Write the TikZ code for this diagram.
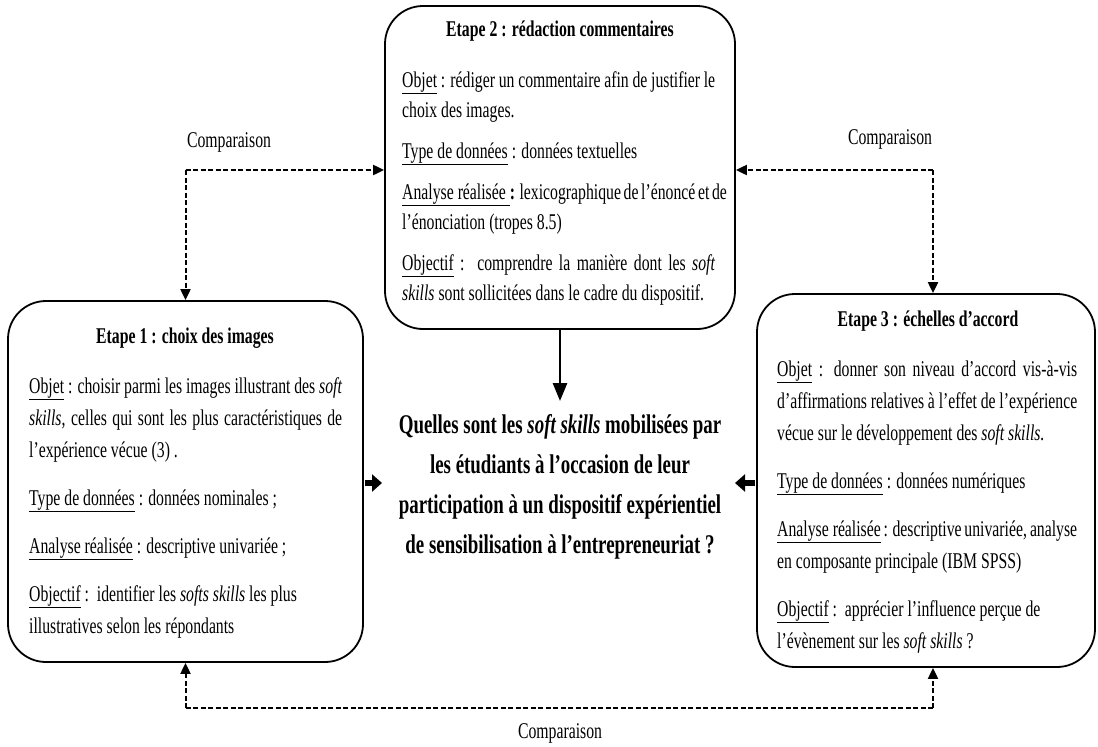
\documentclass[tikz,border=0pt]{standalone}
\usepackage{fontspec}
\setmainfont{Liberation Serif}[FakeStretch=0.7]
\usetikzlibrary{arrows.meta}
\newcommand\J[1]{\hbox to\hsize{#1}}
\newcommand\R[1]{\hbox{#1}}
\tikzset{
  stepbox/.style={draw, line width=1.8pt, rounded corners=38pt, inner sep=0pt},
  body/.style={inner sep=0pt, anchor=base west, font=\fontsize{22.5}{32}\selectfont},
  ttl/.style={inner sep=0pt, anchor=base, font=\fontsize{22.5}{32}\selectfont\bfseries},
  lbl/.style={inner sep=0pt, anchor=center, font=\fontsize{22.5}{32}\selectfont},
  cmp/.style={line width=2pt, dash pattern=on 5pt off 2.5pt},
  cmptip/.style={-{Triangle[length=11pt,width=10pt]}},
  bigarrow/.style={line width=5.5pt, -{Triangle[length=10pt,width=17pt]}},
  downarrow/.style={line width=2.8pt, -{Triangle[length=18pt,width=14pt]}},
}
\begin{document}
\begin{tikzpicture}[x=1pt,y=-1pt]
\useasboundingbox (0,0) rectangle (1098,747);
% boxes
\node[stepbox, minimum width=355pt, minimum height=361pt] (b1) at (185.5,481.5) {};
\node[stepbox, minimum width=350pt, minimum height=323pt] (b2) at (560,167.5) {};
\node[stepbox, minimum width=338pt, minimum height=373pt] (b3) at (926,480.5) {};
% titles
\node[ttl] (t1) at (185,343) {Etape 1 : choix des images};
\node[ttl] (t2) at (560,36) {Etape 2 : rédaction commentaires};
\node[ttl] (t3) at (928,326) {Etape 3 : échelles d’accord};
% bodies
\node[body] (p1) at (29,393) {\vtop{\hsize=313pt
\J{\underline{Objet} : choisir parmi les images illustrant des \textit{soft}}
\J{\textit{skills}, celles qui sont les plus caractéristiques de}
\R{l’expérience vécue (3) .}
\vskip16pt
\R{\underline{Type de données} : données nominales ;}
\vskip16pt
\R{\underline{Analyse réalisée} : descriptive univariée ;}
\vskip16pt
\R{\underline{Objectif} :\ \ identifier les \textit{softs skills} les plus}
\R{illustratives selon les répondants}}};
\node[body] (p2) at (402,87) {\vtop{\hsize=313pt \baselineskip=30pt
\J{\underline{Objet} : rédiger un commentaire afin de justifier le}
\R{choix des images.}
\vskip11pt
\R{\underline{Type de données} : données textuelles}
\vskip11pt
\J{\underline{Analyse réalisée }\textbf{:} lexicographique de l’énoncé et de}
\R{l’énonciation (tropes 8.5)}
\vskip11pt
\J{\underline{Objectif} :\ \ comprendre la manière dont les \textit{soft}}
\R{\textit{skills} sont sollicitées dans le cadre du dispositif.}}};
\node[body] (p3) at (777,376) {\vtop{\hsize=300pt
\J{\underline{Objet} : donner son niveau d’accord vis-à-vis}
\J{d’affirmations relatives à l’effet de l’expérience}
\R{vécue sur le développement des \textit{soft skills.}}
\vskip16pt
\R{\underline{Type de données} : données numériques}
\vskip16pt
\J{\underline{Analyse réalisée} : descriptive univariée, analyse}
\R{en composante principale (IBM SPSS)}
\vskip16pt
\R{\underline{Objectif} :\ \ apprécier l’influence perçue de}
\R{l’évènement sur les \textit{soft skills} ?}}};
% central question
\node[inner sep=0pt, align=center, font=\fontsize{27}{40}\selectfont\bfseries] (q) at (560,487)
  {Quelles sont les \textit{soft skills} mobilisées par\\
   les étudiants à l’occasion de leur\\
   participation à un dispositif expérientiel\\
   de sensibilisation à l’entrepreneuriat ?};
% coordinates
\coordinate (qtop) at (560,401);
\coordinate (qleft) at (382,483);
\coordinate (qright) at (735,483);
\coordinate (c1) at (185.5,170);
\coordinate (c2) at (933,170);
\coordinate (c3) at (185.5,708);
\coordinate (c4) at (933,708);
% solid arrows
\draw[downarrow] (b2.south) -- (qtop);
\draw[bigarrow] ([xshift=1pt]b1.east |- qleft) -- (qleft);
\draw[bigarrow] ([xshift=-1pt]b3.west |- qright) -- (qright);
% comparison arrows
\draw[cmp, cmptip] (c1) -- (c1 -| b2.west);
\draw[cmp, cmptip] (c1) -- (b1.north);
\draw[cmp, cmptip] (c2) -- (c2 -| b2.east);
\draw[cmp, cmptip] (c2) -- (c2 |- b3.north);
\draw[cmp, cmptip] (c3) -- (b1.south);
\draw[cmp, cmptip] (c4) -- (c4 |- b3.south);
\draw[cmp] (c3) -- (c4);
% labels
\node[lbl] (l1) at (229,142) {Comparaison};
\node[lbl] (l2) at (890,139) {Comparaison};
\node[lbl] (l3) at (560,733) {Comparaison};
\end{tikzpicture}
\end{document}
